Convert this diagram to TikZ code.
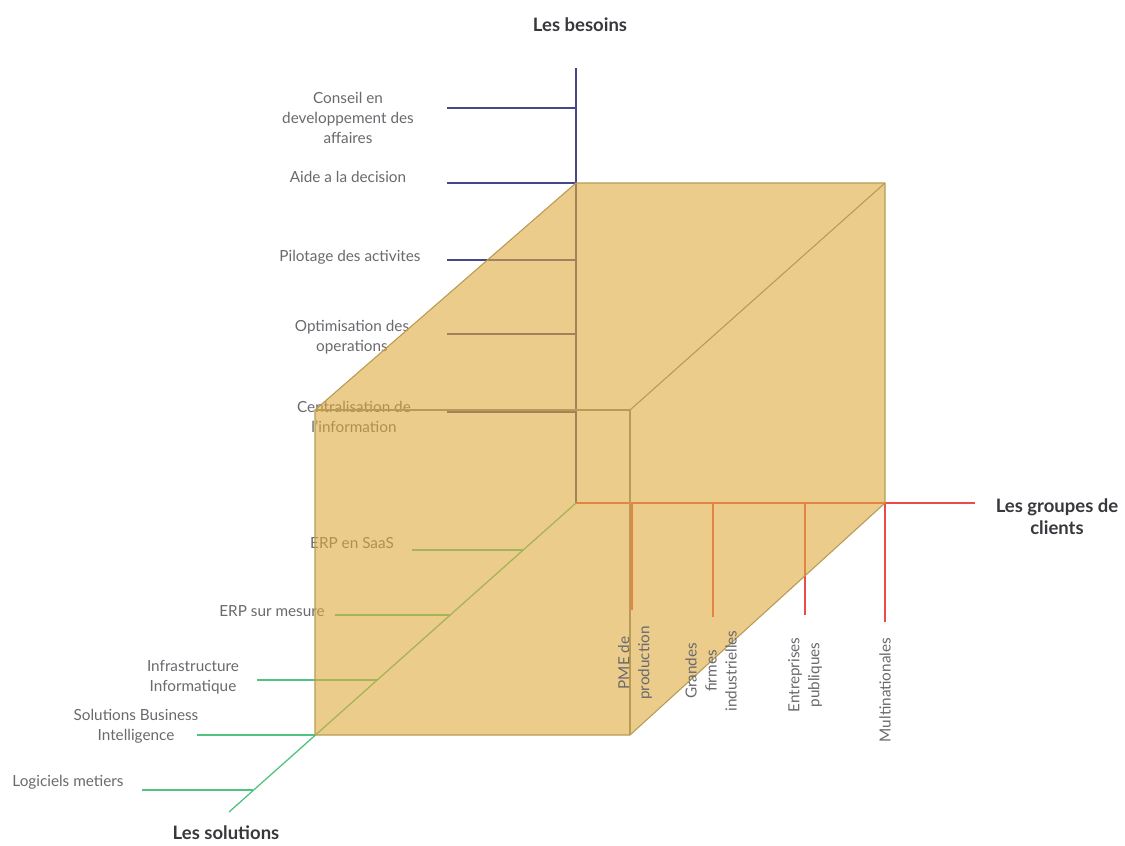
\documentclass[tikz,border=0pt]{standalone}
\usepackage{fontspec}
\setmainfont{Lato}
\definecolor{labgray}{RGB}{105,105,110}
\definecolor{titlegray}{RGB}{55,55,60}
\definecolor{axblue}{RGB}{70,70,140}
\definecolor{axred}{RGB}{235,75,75}
\definecolor{axgreen}{RGB}{80,195,130}
\definecolor{cubefill}{RGB}{223,170,60}
\definecolor{cubeedge}{RGB}{185,155,85}
\begin{document}
\begin{tikzpicture}[x=1pt,y=-1pt,
  lab/.style={font=\fontsize{15.3}{20}\selectfont, text=labgray, align=center, inner sep=0pt},
  ttl/.style={font=\fontsize{18.5}{22}\selectfont\bfseries, text=titlegray, align=center, inner sep=0pt},
  bax/.style={draw=axblue, line width=1.3pt},
  rax/.style={draw=axred, line width=1.3pt},
  gax/.style={draw=axgreen, line width=1.3pt},
  cubeline/.style={draw=cubeedge, line width=1.1pt},
]
\useasboundingbox (0,0) rectangle (1125,846);
% cube vertices
\coordinate (FTL) at (315,410);
\coordinate (BTL) at (576,183);
\coordinate (BTR) at (885,183);
\coordinate (BBR) at (885,503);
\coordinate (FBR) at (630,735);
\coordinate (FBL) at (315,735);
\coordinate (FTR) at (630,410);
\coordinate (O) at (576,503);
% axis ends
\coordinate (BT) at (576,68);
\coordinate (RE) at (975,503);
\coordinate (GE) at (229,812);

% ---- blue axis (besoins)
\draw[bax] (O) -- (BT);
\foreach \n/\y in {1/108,2/183,3/260,4/334,5/412}{
  \coordinate (bs\n) at (447,\y);
  \coordinate (ba\n) at (576,\y);
  \draw[bax] (bs\n) -- (ba\n);
}
\node[lab] (b1) at (348,118) {Conseil en\\developpement des\\affaires};
\node[lab] (b2) at (348,177) {Aide a la decision};
\node[lab] (b3) at (350,257) {Pilotage des activites};
\node[lab] (b4) at (352,337) {Optimisation des\\operations};
\node[lab] (b5) at (354,417) {Centralisation de\\l'information};
\node[ttl] (tb) at (580,25) {Les besoins};

% ---- red axis (groupes de clients)
\draw[rax] (O) -- (RE);
\foreach \n/\x/\e in {1/632/610,2/713/617,3/805/615,4/885/622}{
  \coordinate (ra\n) at (\x,503);
  \coordinate (re\n) at (\x,\e);
  \draw[rax] (ra\n) -- (re\n);
}
\node[ttl] (tr) at (1057,517) {Les groupes de\\clients};

% ---- green axis (solutions)
\draw[gax] (O) -- (GE);
\foreach \n/\y/\xa/\xs in {1/550/523.1/412,2/615/450/335,3/680/376.9/257,4/735/315/197,5/790/253.1/142}{
  \coordinate (gs\n) at (\xs,\y);
  \coordinate (ga\n) at (\xa,\y);
  \draw[gax] (gs\n) -- (ga\n);
}
\node[lab] (g1) at (352,543) {ERP en SaaS};
\node[lab] (g2) at (272,611) {ERP sur mesure};
\node[lab] (g3) at (193,677) {Infrastructure\\Informatique};
\node[lab] (g4) at (136,726) {Solutions Business\\Intelligence};
\node[lab] (g5) at (68,782) {Logiciels metiers};
\node[ttl] (tg) at (226,833) {Les solutions};

% ---- cube
\fill[cubefill, fill opacity=0.6] (FTL) -- (BTL) -- (BTR) -- (BBR) -- (FBR) -- (FBL) -- cycle;
\draw[cubeline, line join=round] (FTL) -- (BTL) -- (BTR) -- (BBR) -- (FBR) -- (FBL) -- cycle;
\draw[cubeline] (FTL) -- (FTR) -- (FBR);
\draw[cubeline] (FTR) -- (BTR);

% ---- client group labels (on top)
\node[lab, rotate=90] (r1) at (635,663) {PME de\\production};
\node[lab, rotate=90] (r2) at (711,671) {Grandes\\firmes\\industrielles};
\node[lab, rotate=90] (r3) at (805,675) {Entreprises\\publiques};
\node[lab, rotate=90] (r4) at (885,690) {Multinationales};
\end{tikzpicture}
\end{document}
